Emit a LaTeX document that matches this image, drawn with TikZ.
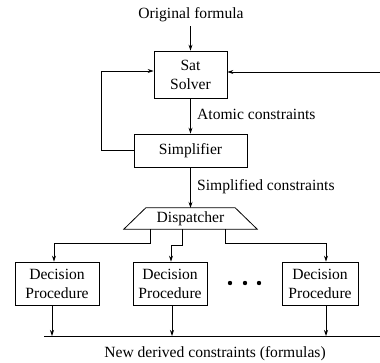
\documentclass[tikz,border=0pt]{standalone}
\usepackage{fontspec}
\setmainfont{Liberation Serif}
\usetikzlibrary{arrows.meta}
\begin{document}
\begin{tikzpicture}[x=1pt,y=-1pt,
  every node/.style={font=\fontsize{15.6}{19}\selectfont, inner sep=0pt},
  blk/.style={draw, line width=0.8pt, align=center},
  arr/.style={line width=0.8pt, -{Stealth[length=6pt,width=4pt]}},
  ln/.style={line width=0.8pt}]
\useasboundingbox (0,0) rectangle (380,362);
\node (orig) at (191,15) {Original formula};
\node[blk, minimum width=73pt, minimum height=47pt] (sat) at (190.5,74.5) {Sat\\Solver};
\node[blk, minimum width=113pt, minimum height=33pt] (simp) at (190.5,150.5) {Simplifier};
\node[minimum width=89pt, minimum height=21pt] (disp) at (190.5,218.5) {Dispatcher};
\draw[ln] (disp.north west) -- (disp.north east) -- ([xshift=22pt]disp.south east) -- ([xshift=-22pt]disp.south west) -- cycle;
\node[anchor=west] (atom) at (197,114) {Atomic constraints};
\node[anchor=west] (simpc) at (197,187) {Simplified constraints};
\node[blk, minimum width=84pt, minimum height=43pt] (d1) at (57,283.5) {Decision\\Procedure};
\node[blk, minimum width=74pt, minimum height=43pt] (d2) at (170,283.5) {Decision\\Procedure};
\node[blk, minimum width=76pt, minimum height=43pt] (d3) at (320,283.5) {Decision\\Procedure};
\node (newc) at (215,354) {New derived constraints (formulas)};
\coordinate (busL) at (44,336);
\coordinate (busR) at (380,336);
\coordinate (rin) at (380,72);
\coordinate (lft) at (101,71);
\draw[arr] (orig.south -| sat.north) ++(0,4) -- (sat.north);
\draw[arr] (sat.south) -- (simp.north);
\draw[arr] (simp.south) -- (disp.north);
\draw[arr] (simp.west) -| (lft) -- (sat.west |- lft);
\draw[arr] (rin) -- (sat.east |- rin);
\draw[arr] (150,229) -- (150,243) -- (54,243) -- (d1.north -| 54,0);
\draw[arr] (182,229) -- (182,245) -- (171,245) -- (d2.north -| 171,0);
\draw[arr] (225,229) -- (225,243) -- (326,243) -- (d3.north -| 326,0);
\draw[arr] (d1.south -| 52,0) -- (busL -| 52,0);
\draw[arr] (d2.south -| 172,0) -- (busL -| 172,0);
\draw[arr] (d3.south -| 326,0) -- (busL -| 326,0);
\draw[ln] (busL) -- (busR);
\foreach \x in {230,245,259} \fill (\x,283) circle (2.2pt);
\end{tikzpicture}
\end{document}
